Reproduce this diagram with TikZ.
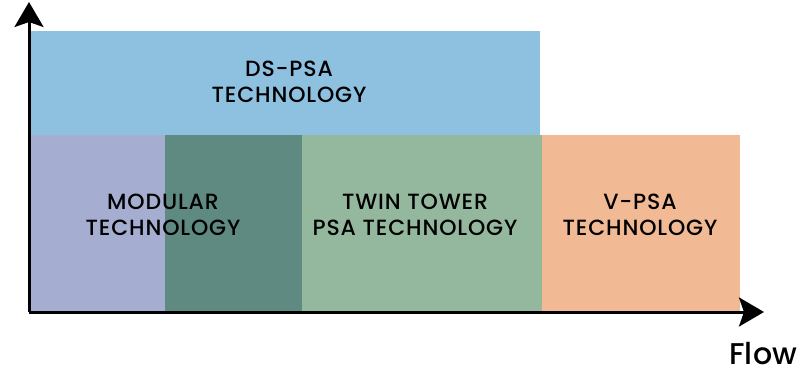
\documentclass[tikz,border=0pt]{standalone}
\usepackage{fontspec}
\setmainfont{Poppins}[UprightFont={* Medium}, LetterSpace=4]
\usetikzlibrary{arrows.meta,positioning}
\definecolor{dsblue}{HTML}{8EC1E0}
\definecolor{modblue}{HTML}{A5AED0}
\definecolor{mixgreen}{HTML}{5F8A82}
\definecolor{twingreen}{HTML}{94B89E}
\definecolor{vpsaorange}{HTML}{F2B995}
\tikzset{
	techlabel/.style={align=center, font=\fontsize{22}{26}\selectfont},
	axisline/.style={line width=3pt, -{Stealth[length=25pt, width=29pt, inset=5pt]}}
}

\begin{document}
\begin{tikzpicture}
		[x=1pt, y=-1pt, inner sep=0pt]
		\useasboundingbox (0, 0) rectangle (804, 369);
		
		% blocks ---------------------------------------------------
		\fill[dsblue]		(29, 31) rectangle (540, 135);
		\fill[modblue]		(29, 135) rectangle (165, 311);
		\fill[mixgreen]		(165, 135) rectangle (302, 311);
		\fill[twingreen]	(302, 135) rectangle (542, 312);
		\fill[vpsaorange]	(542, 135) rectangle (740, 312);
		
		% labels ---------------------------------------------------
		\node[techlabel] (dspsa) at (289, 82) {DS-PSA\\TECHNOLOGY};
		\node[techlabel] (modular) at (163, 215) {MODULAR\\TECHNOLOGY};
		\node[techlabel] (twintower) at (415, 215) {TWIN TOWER\\PSA TECHNOLOGY};
		\node[techlabel] (vpsa) at (640, 215) {V-PSA\\TECHNOLOGY};
		
		% axes -----------------------------------------------------
		\coordinate (origin) at (29, 312);
		\coordinate (ytip) at (29, 2);
		\coordinate (xtip) at (764, 312);
		\draw[axisline] (origin) -- (ytip);
		\draw[axisline] (origin) -- (xtip);
		
		\node[font=\fontsize{30}{30}\selectfont\addfontfeatures{LetterSpace=1}, anchor=base west] (flow) at (729, 364) {Flow};
\end{tikzpicture}
\end{document}
